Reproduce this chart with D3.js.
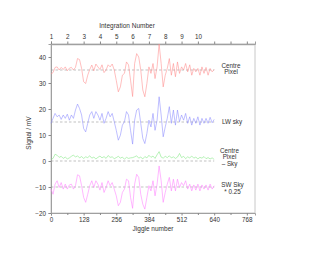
<!DOCTYPE html>
<html><head><meta charset="utf-8">
<script src="https://cdn.jsdelivr.net/npm/d3@7"></script>
<style>html,body{margin:0;padding:0;background:#fff;}svg{display:block;font-family:"Liberation Sans",Arial,sans-serif;}</style>
</head><body>
<script>
const jiggleStep = 8;
const centrePixel = [33.5,34,36,36.2,35,36,35.2,36.2,34.7,35.7,36,35,36,39.4,39,35.6,30.5,29.8,33,35.2,36.9,34.7,37.3,36.2,35.2,37,34,35,37,36.2,37.3,35,31,26.6,28.5,33,33.7,38.1,37,31.1,
24.8,
37.5,41.3,40,35,27.3,24.7,29.8,36.2,33.7,37.5,31.7,36.2,45,37.5,28.5,33,35.6,39.4,33,37.5,32.4,38.1,33.7,36.2,35,37.5,34.3,37,33,35.6,34.3,35.6,33,36.2,33.7,36,33,35.6,34.3,35.2];
const lwSky = [14.5,16.4,18.3,17,17.7,16,17.7,16.4,18,15.7,17.7,16.4,19.6,21.9,20.2,17.7,12.5,11.2,14.5,17.7,19,16.4,19,17.7,15.7,18.3,14.5,16.4,19,17,18.3,15.1,11.8,8,9.9,13.8,15.1,19,17.7,11.8,
6.5,
15.7,19.6,20.2,14.5,8.7,6.7,10.6,15.7,13.1,18.3,11.8,15.7,24.7,17.7,9.3,13.1,16.4,20.9,14.5,19.6,13.8,19.6,15.1,17.7,15.7,18.3,14.5,17,13.8,16.4,14.5,17,13.8,16.4,14.5,16.4,14.5,16.8,14.7,16];
const centreMinusSky = [0.6,1.0,2.6,2.2,1.4,1.8,1.0,1.5,0.8,1.2,1.8,2.3,1.5,2.0,1.2,1.7,1.0,1.6,1.3,2.0,1.1,1.5,0.8,1.4,1.9,1.2,1.7,1.0,2.1,1.4,1.6,0.9,1.3,1.8,1.1,1.5,0.7,1.4,1.0,1.2,
1.3,
1.6,2.0,1.1,1.5,0.8,1.7,1.2,2.2,1.4,1.9,1.0,2.4,3.6,1.5,1.1,1.8,1.3,2.0,1.2,1.6,1.0,1.5,2.9,1.3,1.8,0.9,1.6,1.2,1.9,1.1,1.5,0.8,1.4,1.1,1.7,0.9,1.3,0.8,1.2,0.6];
const swSkyQuarter = [-10.8,-12.8,-8.9,-7.6,-10.2,-8.3,-10.8,-8.9,-10.8,-9.2,-8.9,-10.8,-9.5,-5.3,-5.7,-9.5,-14,-15.9,-12.8,-9.5,-7.6,-10.2,-7.6,-8.9,-11.2,-8.3,-12.1,-10.2,-7.6,-9.5,-8.3,-10.8,-13.4,-17.2,-15.9,-12.1,-10.8,-7,-7.6,-14,
-18.2,
-8.9,-5.1,-6.3,-12.8,-16.6,-18.5,-14,-9.5,-11.5,-7.6,-13.4,-8.9,-1.9,-7.6,-15.9,-12.1,-8.9,-6.3,-11.5,-7,-11.5,-7,-10.2,-8.3,-9.5,-7.6,-10.8,-8.9,-11.5,-9.2,-11.2,-8.9,-11.5,-9.2,-10.8,-9.2,-11.2,-8.9,-10.8,-9.5];
const baselines = [35, 15, 0, -10];
const jiggleTicks = [0,128,256,384,512,640,768];
const jiggleMinorTicks = [64,192,320,448,576,704];
const integrationTicks = [1,2,3,4,5,6,7,8,9,10,11,12,13];
const integrationLabels = ["1","2","3","4","5","6","7","8","9","10"];
const signalTicks = [-20,-10,0,10,20,30,40];
const seriesLabels = [["Centre","Pixel"],["LW sky"],["Centre","Pixel","\u2013 Sky"],["SW Sky","* 0.25"]];
const seriesLabelValues = [35.5, 15, 1.5, -10.5];
const seriesColors = ["#ff8a8a","#8a8aff","#7ce87c","#ff7cff"];

const W = 334, H = 258;
const svg = d3.select("body").append("svg").attr("width", W).attr("height", H);
const x = d3.scaleLinear().domain([0, 800]).range([51, 255]);
const y = d3.scaleLinear().domain([-20, 45]).range([213, 44]);

// frame
svg.append("rect").attr("x", 51).attr("y", 44).attr("width", 204).attr("height", 169)
  .attr("fill", "#fff").attr("stroke", "#c8c8c8").attr("stroke-width", 1);
svg.append("line").attr("x1",51).attr("x2",255).attr("y1",44.5).attr("y2",44.5).attr("stroke","#d6d6d6").attr("stroke-width",2);

function styleAxis(g){
  g.select(".domain").attr("stroke", "#a0a0a0");
  g.selectAll(".tick line").attr("stroke", "#888");
  g.selectAll(".tick text").attr("fill", "#333").attr("font-size", "6.3px");
}
// bottom axis
const gb = svg.append("g").attr("transform", "translate(0,213)")
  .call(d3.axisBottom(x).tickValues(jiggleTicks).tickSize(2.5).tickPadding(2));
styleAxis(gb);
svg.append("g").attr("transform", "translate(0,213)")
  .call(d3.axisBottom(x).tickValues(jiggleMinorTicks).tickSize(2).tickFormat(""))
  .call(g => { g.select(".domain").remove(); g.selectAll("line").attr("stroke","#888"); });
// top axis (integration number)
const gt = svg.append("g").attr("transform", "translate(0,44)")
  .call(d3.axisTop(x).tickValues(integrationTicks.map(n => (n-1)*64)).tickSize(2.5).tickPadding(3)
    .tickFormat((d,i) => integrationLabels[i] || ""));
styleAxis(gt);
// left axis
const gl = svg.append("g").attr("transform", "translate(51,0)")
  .call(d3.axisLeft(y).tickValues(signalTicks).tickSize(2.5).tickPadding(2.5));
styleAxis(gl);

// baselines
svg.append("g").selectAll("line").data(baselines).join("line")
  .attr("x1", x(0)).attr("x2", x(640))
  .attr("y1", d => y(d)).attr("y2", d => y(d))
  .attr("stroke", "#999").attr("stroke-width", 0.6).attr("stroke-dasharray", "2.5,2");

// series
const allSeries = [centrePixel, lwSky, centreMinusSky, swSkyQuarter];
const line = d3.line().x((d,i) => x(i*jiggleStep)).y(d => y(d));
svg.append("g").selectAll("path").data(allSeries).join("path")
  .attr("d", d => line(d)).attr("fill", "none")
  .attr("stroke", (d,i) => seriesColors[i]).attr("stroke-width", 0.55);

// series labels
const labelX = [231, 232, 229.5, 232.5];
seriesLabels.forEach((lines, i) => {
  const n = lines.length;
  const t = svg.append("text").attr("text-anchor", "middle").attr("font-size", "6.3px").attr("fill", "#333");
  lines.forEach((s, k) => {
    t.append("tspan").attr("x", labelX[i])
      .attr("y", y(seriesLabelValues[i]) + (k - (n-1)/2) * 6.6 + 2.2).text(s);
  });
});

// titles
svg.append("text").attr("x", 127).attr("y", 28).attr("text-anchor", "middle")
  .attr("font-size", "6.5px").attr("fill", "#333").text("Integration Number");
svg.append("text").attr("x", 153).attr("y", 230.5).attr("text-anchor", "middle")
  .attr("font-size", "6.5px").attr("fill", "#333").text("Jiggle number");
svg.append("text").attr("transform", "translate(31,133) rotate(-90)").attr("text-anchor", "middle")
  .attr("font-size", "6.5px").attr("fill", "#333").text("Signal / mV");
</script>
</body></html>
